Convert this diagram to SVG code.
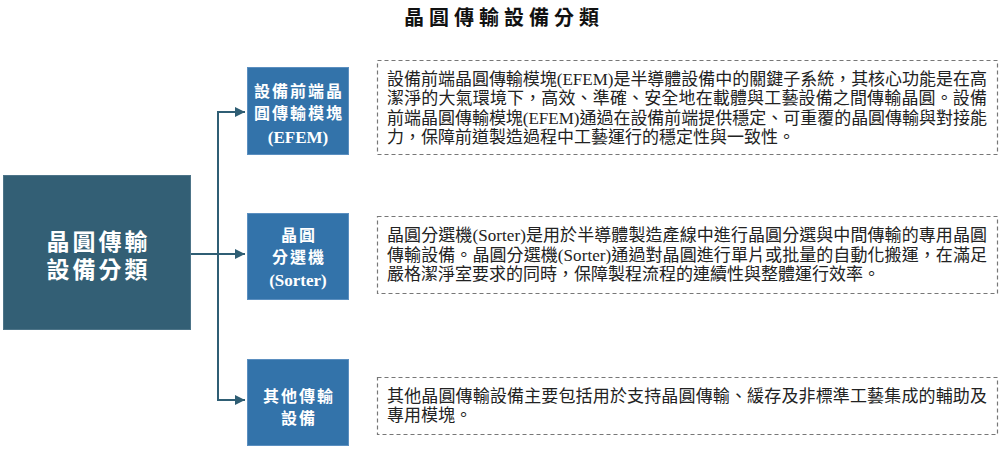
<svg xmlns="http://www.w3.org/2000/svg" width="1000" height="451" viewBox="0 0 1000 451">
<style>
.title{font-family:"Liberation Serif","Noto Sans CJK TC",serif;font-size:20px;font-weight:bold;fill:#111;letter-spacing:5px}
.main{fill:#335F75;stroke:#4d7488;stroke-width:1}
.mainT{font-family:"Liberation Serif","Noto Sans CJK TC",serif;font-size:23px;font-weight:bold;fill:#fff;letter-spacing:3px}
.cat{fill:#3373AA;stroke:#5b8fc0;stroke-width:1}
.catT{font-family:"Liberation Serif","Noto Sans CJK TC",serif;font-size:16px;font-weight:bold;fill:#fff;letter-spacing:2px}
.catL{font-family:"Liberation Serif","Noto Sans CJK TC",serif;font-size:17px;font-weight:bold;fill:#fff}
.desc{fill:#fff;stroke:#777;stroke-width:1.2;stroke-dasharray:4 3}
.descT{font-family:"Liberation Serif","Noto Sans CJK TC",serif;font-size:17px;fill:#222}
.conn{fill:none;stroke:#2F5E74;stroke-width:2}
</style>
<defs>
<marker id="arrow" viewBox="0 0 10 10" refX="10" refY="5" markerWidth="5" markerHeight="5" orient="auto" markerUnits="strokeWidth">
<path d="M0,0 L10,5 L0,10 z" fill="#2F5E74"/>
</marker>
</defs>
<text class="title" x="504" y="18" text-anchor="middle" dominant-baseline="central">晶圓傳輸設備分類</text>

<g id="connectors">
<path class="conn" d="M191,254 L245,254" marker-end="url(#arrow)"/>
<path class="conn" d="M218,400 L218,112 L245,112" marker-end="url(#arrow)"/>
<path class="conn" d="M218,254 L218,400 L245,400" marker-end="url(#arrow)"/>
</g>

<g id="root">
<rect class="main" x="3.5" y="175.5" width="187" height="154"/>
<text class="mainT" x="98.5" y="242" text-anchor="middle" dominant-baseline="central">晶圓傳輸</text>
<text class="mainT" x="98.5" y="270" text-anchor="middle" dominant-baseline="central">設備分類</text>
</g>

<g id="efem">
<rect class="cat" x="247.5" y="67.5" width="101" height="87"/>
<text class="catT" x="299" y="91" text-anchor="middle" dominant-baseline="central">設備前端晶</text>
<text class="catT" x="299" y="113" text-anchor="middle" dominant-baseline="central">圓傳輸模塊</text>
<text class="catL" x="298" y="137" text-anchor="middle" dominant-baseline="central">(EFEM)</text>
</g>

<g id="sorter">
<rect class="cat" x="247.5" y="213.5" width="101" height="86"/>
<text class="catT" x="299" y="235" text-anchor="middle" dominant-baseline="central">晶圓</text>
<text class="catT" x="299" y="257" text-anchor="middle" dominant-baseline="central">分選機</text>
<text class="catL" x="298" y="280" text-anchor="middle" dominant-baseline="central">(Sorter)</text>
</g>

<g id="other">
<rect class="cat" x="247.5" y="359.5" width="101" height="86"/>
<text class="catT" x="299" y="396" text-anchor="middle" dominant-baseline="central">其他傳輸</text>
<text class="catT" x="299" y="418" text-anchor="middle" dominant-baseline="central">設備</text>
</g>

<g id="efem-desc">
<rect class="desc" x="377.5" y="60.5" width="620" height="94"/>
<text class="descT" x="387" y="79" dominant-baseline="central" textLength="600" lengthAdjust="spacing">設備前端晶圓傳輸模塊(EFEM)是半導體設備中的關鍵子系統，其核心功能是在高</text>
<text class="descT" x="387" y="98.5" dominant-baseline="central" textLength="600" lengthAdjust="spacing">潔淨的大氣環境下，高效、準確、安全地在載體與工藝設備之間傳輸晶圓。設備</text>
<text class="descT" x="387" y="118" dominant-baseline="central" textLength="600" lengthAdjust="spacing">前端晶圓傳輸模塊(EFEM)通過在設備前端提供穩定、可重覆的晶圓傳輸與對接能</text>
<text class="descT" x="387" y="137.5" dominant-baseline="central">力，保障前道製造過程中工藝運行的穩定性與一致性。</text>
</g>

<g id="sorter-desc">
<rect class="desc" x="377.5" y="216.5" width="620" height="77"/>
<text class="descT" x="387" y="235.5" dominant-baseline="central" textLength="600" lengthAdjust="spacing">晶圓分選機(Sorter)是用於半導體製造產線中進行晶圓分選與中間傳輸的專用晶圓</text>
<text class="descT" x="387" y="255" dominant-baseline="central" textLength="600" lengthAdjust="spacing">傳輸設備。晶圓分選機(Sorter)通過對晶圓進行單片或批量的自動化搬運，在滿足</text>
<text class="descT" x="387" y="274.5" dominant-baseline="central">嚴格潔淨室要求的同時，保障製程流程的連續性與整體運行效率。</text>
</g>

<g id="other-desc">
<rect class="desc" x="377.5" y="377.5" width="620" height="57"/>
<text class="descT" x="387" y="396" dominant-baseline="central" textLength="600" lengthAdjust="spacing">其他晶圓傳輸設備主要包括用於支持晶圓傳輸、緩存及非標準工藝集成的輔助及</text>
<text class="descT" x="387" y="415.5" dominant-baseline="central">專用模塊。</text>
</g>
</svg>
